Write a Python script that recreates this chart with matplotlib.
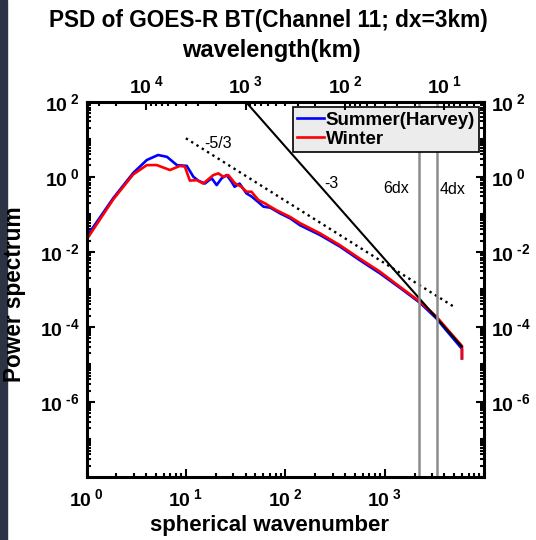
import numpy as np
import matplotlib
matplotlib.use('Agg')
import matplotlib.pyplot as plt
from matplotlib.ticker import LogLocator, FuncFormatter, NullFormatter
from matplotlib.patches import Rectangle

plt.rcParams['font.family'] = ['Liberation Sans', 'DejaVu Sans']
plt.rcParams['mathtext.fontset'] = 'custom'
plt.rcParams['mathtext.rm'] = 'Liberation Sans:bold'
plt.rcParams['mathtext.it'] = 'Liberation Sans:bold'
plt.rcParams['mathtext.bf'] = 'Liberation Sans:bold'

# summer (Harvey) spectrum
k_summer = [1, 1.86, 2.95, 4.04, 5.25, 6.46, 8.13, 10.2, 11.9, 13.3, 15.5, 18.2,
            20.4, 22.9, 25.7, 28.8, 30.9, 34.7, 40.7, 45.7, 53.7, 60.3, 70.8,
            89.1, 112, 141, 224, 355, 562, 891, 1426, 2265, 3334, 4207, 6000, 6000]
p_summer = [0.025, 0.27, 1.26, 2.79, 3.8, 3.39, 2.04, 1.95, 1.0, 0.79, 0.66, 0.91,
            0.60, 0.91, 1.11, 0.74, 0.54, 0.66, 0.36, 0.30, 0.21, 0.16, 0.15,
            0.105, 0.078, 0.051, 0.028, 0.0138, 0.006, 0.0027, 1.1e-3, 4.4e-4,
            1.66e-4, 7.9e-5, 2.6e-5, 1.45e-5]

# winter spectrum
k_winter = [1, 1.86, 2.95, 4.04, 5.09, 6.92, 8.71, 9.77, 10.96, 12.9, 14.96, 18.9,
            21.2, 23.8, 26.7, 31.2, 36.3, 40.7, 45.7, 53.7, 62.5, 81.3, 112, 141,
            224, 355, 562, 891, 1426, 2265, 3334, 4207, 6000, 6000]
p_winter = [0.021, 0.25, 1.15, 2.04, 2.05, 1.51, 1.95, 1.86, 0.79, 0.81, 0.66, 1.11,
            1.23, 1.0, 1.11, 0.67, 0.54, 0.40, 0.40, 0.24, 0.195, 0.129, 0.085,
            0.058, 0.031, 0.015, 0.0066, 0.0030, 1.17e-3, 4.7e-4, 1.86e-4, 9.1e-5,
            3.1e-5, 1.45e-5]

# reference slopes (end points)
k_53 = [10, 5200]
p_53 = [10.6, 3.2e-4]
k_3 = [40, 6000]
p_3 = [100, 2.96e-5]

circ = 40000.0   # km
dx = 3.0
cutoffs = [6, 4]

fig = plt.figure(figsize=(5.36, 5.40), dpi=100)
fig.patches.append(Rectangle((0, 0), 7/536, 1, transform=fig.transFigure,
                             color='#2c3345', zorder=0))
ax = fig.add_axes([86.5/536, 1-477/540, 397.5/536, 375.3/540])

ax.plot(k_summer, p_summer, color='b', lw=1.9, label='Summer(Harvey)')
ax.plot(k_winter, p_winter, color='r', lw=1.9, label='Winter')
ax.plot(k_53, p_53, color='k', ls=':', lw=1.7)
ax.plot(k_3, p_3, color='k', lw=1.5)
for n in cutoffs:
    ax.axvline(circ/(n*dx), color='0.55', lw=1.8)

ax.text(21, 7.9, '-5/3', fontsize=11.5, ha='center', va='center')
ax.text(293, 0.67, '-3', fontsize=11.5, ha='center', va='center')
ax.text(1320, 0.49, '6dx', fontsize=11.5, ha='center', va='center')
ax.text(4860, 0.47, '4dx', fontsize=11.5, ha='center', va='center')

ax.set_xscale('log')
ax.set_yscale('log')
ax.set_xlim(1, 1e4)
ax.set_ylim(1e-8, 1e2)

def sci(v, pos):
    e = int(round(np.log10(v)))
    if e < 0:
        return r'$10^{\ \text{-}%d}$' % -e
    return r'$10^{\ %d}$' % e

ax.set_xticks([1, 10, 100, 1000])
ax.set_yticks([1e2, 1, 1e-2, 1e-4, 1e-6])
ax.xaxis.set_minor_locator(LogLocator(base=10, subs=np.arange(1, 10), numticks=50))
ax.yaxis.set_minor_locator(LogLocator(base=10, subs=np.arange(1, 10), numticks=50))
ax.xaxis.set_major_formatter(FuncFormatter(sci))
ax.yaxis.set_major_formatter(FuncFormatter(sci))
ax.xaxis.set_minor_formatter(NullFormatter())
ax.yaxis.set_minor_formatter(NullFormatter())
ax.tick_params(which='both', direction='in', top=False, right=True,
               labelright=True, labelsize=14, width=1.5)
ax.tick_params(which='major', length=6)
ax.tick_params(which='minor', length=3)
ax.tick_params(axis='x', pad=8)
ax.tick_params(axis='y', which='both', pad=5)
for s in ax.spines.values():
    s.set_linewidth(2.2)

ax2 = ax.twiny()
ax2.set_xscale('log')
ax2.set_xlim(circ/1, circ/1e4)
ax2.set_xticks([1e4, 1e3, 1e2, 1e1])
ax2.xaxis.set_minor_locator(LogLocator(base=10, subs=np.arange(1, 10), numticks=50))
ax2.xaxis.set_major_formatter(FuncFormatter(sci))
ax2.xaxis.set_minor_formatter(NullFormatter())
ax2.tick_params(which='both', direction='in', labelsize=14, width=1.5, pad=3)
ax2.tick_params(which='major', length=6)
ax2.tick_params(which='minor', length=3)

leg = ax.legend(loc='upper right', bbox_to_anchor=(0.9874, 0.985), borderaxespad=0,
                fancybox=False, edgecolor='k', facecolor='#ececec', framealpha=1,
                prop={'weight': 'bold', 'size': 13.5}, handlelength=1.4,
                handletextpad=0.1, borderpad=0.22, labelspacing=0.12)
leg.get_frame().set_linewidth(1.2)
leg.set_zorder(10)

fig.text(268/536, 1-21/540, 'PSD of GOES-R BT(Channel 11; dx=3km)', fontsize=16.3,
         fontweight='bold', ha='center', va='center')
fig.text(271/536, 1-50/540, 'wavelength(km)', fontsize=17, fontweight='bold',
         ha='center', va='center')
fig.text(270/536, 1-525/540, 'spherical wavenumber', fontsize=16, fontweight='bold',
         ha='center', va='center')
fig.text(15/536, 1-294/540, 'Power spectrum', fontsize=16.3, fontweight='bold',
         ha='center', va='center', rotation=90)

fig.savefig('out.png', dpi=100)
